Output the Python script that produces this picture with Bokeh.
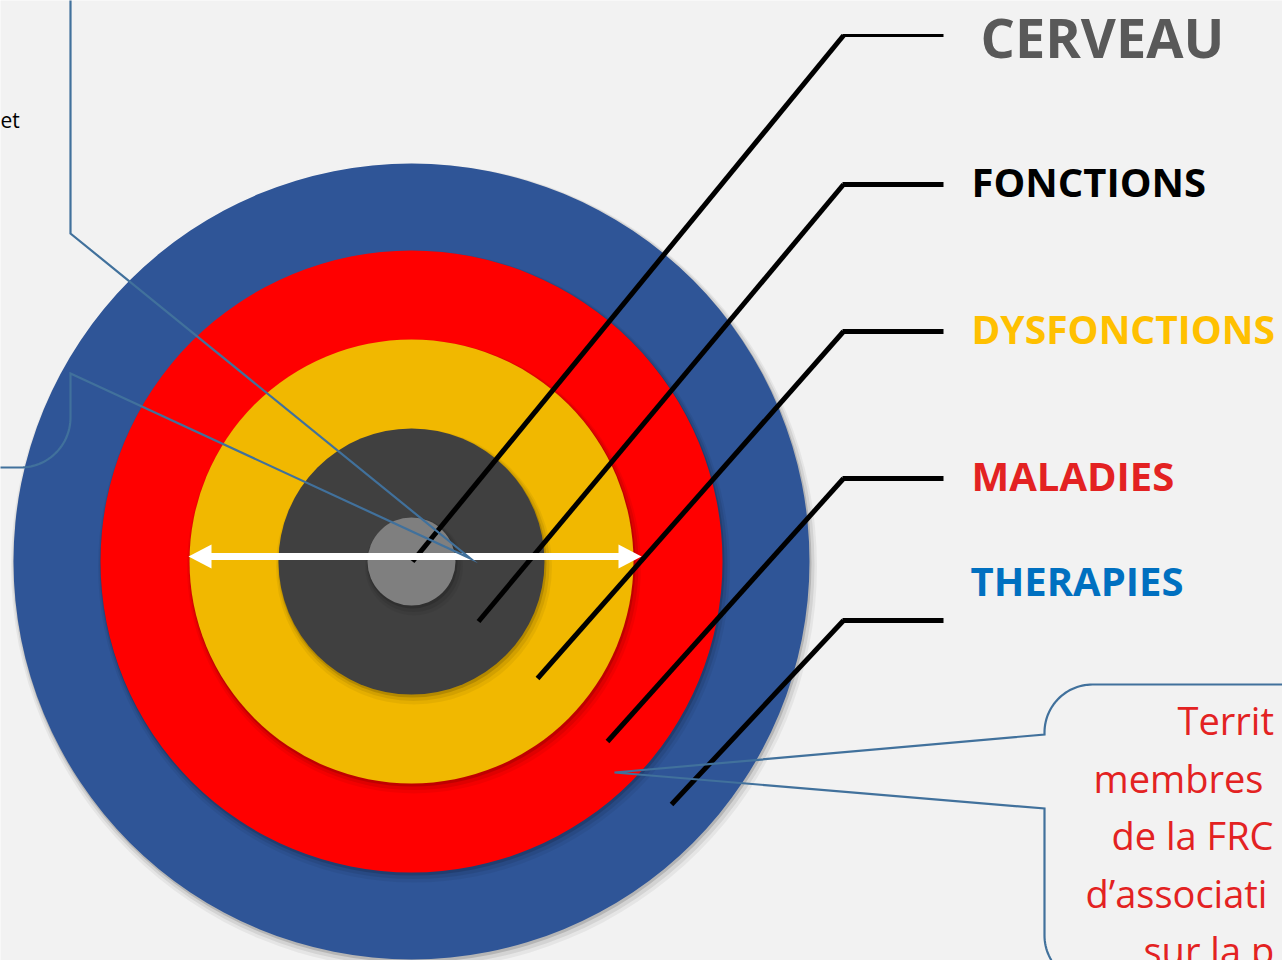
import numpy as np
from bokeh.plotting import figure
from bokeh.models import Range1d, ColumnDataSource
from bokeh.core.properties import value
from bokeh.embed import file_html
from bokeh.resources import INLINE

# ---------------- data ----------------
# concentric rings (outer -> inner)
ring_names = ["THERAPIES", "MALADIES", "DYSFONCTIONS", "FONCTIONS", "CERVEAU"]
ring_radius = [398, 311, 222, 133, 44]
ring_colors = ["#2F5597", "#FF0000", "#F1B800", "#404040", "#7F7F7F"]
center_x = 411
center_y = 561

# right-hand labels (y = text anchor)
labels = ["CERVEAU", "FONCTIONS", "DYSFONCTIONS", "MALADIES", "THERAPIES"]
label_colors = ["#595959", "#000000", "#FFC000", "#E32222", "#0070C0"]
label_x = [980, 971, 971, 971, 970]
label_y = [36, 181, 328, 475, 580]
label_size = ["54px", "40px", "39px", "40px", "40px"]

# black leader lines
leader_inner_x = [412, 478, 537, 607, 671]
leader_inner_y = [561, 621, 678, 741, 804]
leader_elbow_x = [843, 843, 843, 843, 843]
leader_elbow_y = [35, 184, 331, 478, 620]
leader_end_x = [943, 943, 943, 943, 943]
leader_h_width = [3, 5, 5, 5, 5]

# white double arrow
arrow_x_start = 188
arrow_x_end = 641
arrow_y = 556
arrow_head_len = 23
arrow_head_half = 12

# callout (left)
left_callout_pts_x = [70, 70, 470, 70, 70]
left_callout_pts_y = [-5, 233, 558, 373, 417]
left_corner = (20, 417, 50)
left_tail_x = -5
# callout (bottom right)
right_top_y = 684
right_corner_top = (1092, 732, 48)
right_pointer_x = [1044, 1044, 614, 1044, 1044]
right_pointer_y = [732, 734, 772, 808, 935]
right_corner_bottom = (1092, 935, 48)

callout_lines = ["Territ", "membres", "de la FRC", "d\u2019associati", "sur la p"]
callout_x = [1177, 1093, 1111, 1085, 1143]
callout_y = [719, 777, 834, 892, 949]

top_left_text = ["et"]

BG = "#F2F2F2"
CALLOUT_BLUE = "#41719C"

# ---------------- figure ----------------
p = figure(width=1282, height=960,
           x_range=Range1d(0, 1282), y_range=Range1d(960, 0),
           output_backend="svg", toolbar_location=None, tools="",
           x_axis_type=None, y_axis_type=None, min_border=0,
           background_fill_color=BG, border_fill_color=BG,
           outline_line_color=None)

# rings with soft shadows
shadow_layers = [(2.5, 5.0, 5.0, 0.05), (2.0, 3.5, 3.0, 0.08), (1.0, 2.0, 1.0, 0.14)]
for r, c in zip(ring_radius, ring_colors):
    for dx, dy, dr, a in shadow_layers:
        p.circle(x=[center_x + dx], y=[center_y + dy], radius=[r + dr],
                 fill_color="black", fill_alpha=a, line_color=None)
    p.circle(x=[center_x], y=[center_y], radius=[r], fill_color=c, line_color=None)

# black leader lines
diag = ColumnDataSource(dict(x0=leader_inner_x, y0=leader_inner_y,
                             x1=leader_elbow_x, y1=leader_elbow_y))
p.segment(x0="x0", y0="y0", x1="x1", y1="y1", source=diag,
          line_color="black", line_width=5, line_cap="butt")
horiz = ColumnDataSource(dict(x0=[x - 1 for x in leader_elbow_x], y0=leader_elbow_y,
                              x1=leader_end_x, y1=leader_elbow_y, w=leader_h_width))
p.segment(x0="x0", y0="y0", x1="x1", y1="y1", source=horiz,
          line_color="black", line_width="w", line_cap="butt")

# white double arrow
p.segment(x0=[arrow_x_start + arrow_head_len - 1], y0=[arrow_y],
          x1=[arrow_x_end - arrow_head_len + 1], y1=[arrow_y],
          line_color="white", line_width=7)
p.patches(xs=[[arrow_x_start, arrow_x_start + arrow_head_len, arrow_x_start + arrow_head_len],
              [arrow_x_end, arrow_x_end - arrow_head_len, arrow_x_end - arrow_head_len]],
          ys=[[arrow_y, arrow_y - arrow_head_half, arrow_y + arrow_head_half],
              [arrow_y, arrow_y - arrow_head_half, arrow_y + arrow_head_half]],
          fill_color="white", line_color=None)

# callout outlines
cx, cy, cr = left_corner
t = np.linspace(0, np.pi / 2, 30)
lx = list(left_callout_pts_x) + list(cx + cr * np.cos(t)) + [left_tail_x]
ly = list(left_callout_pts_y) + list(cy + cr * np.sin(t)) + [cy + cr]

tx, ty, tr = right_corner_top
bx, by, br = right_corner_bottom
t1 = np.linspace(-np.pi / 2, -np.pi, 30)
t2 = np.linspace(np.pi, np.pi / 2, 30)
rx = [1290] + list(tx + tr * np.cos(t1)) + right_pointer_x + list(bx + br * np.cos(t2))
ry = [right_top_y] + list(ty + tr * np.sin(t1)) + right_pointer_y + list(by + br * np.sin(t2))

p.multi_line(xs=[lx, rx], ys=[ly, ry], line_color=CALLOUT_BLUE, line_width=2.2,
             line_join="miter")

# labels
lab = ColumnDataSource(dict(x=label_x, y=label_y, t=labels, c=label_colors, s=label_size))
p.text(x="x", y="y", text="t", source=lab, text_color="c", text_font_size="s",
       text_font=value("Open Sans"), text_font_style="bold",
       text_baseline="alphabetic", text_align="left")

# callout text
ct = ColumnDataSource(dict(x=callout_x, y=callout_y, t=callout_lines))
p.text(x="x", y="y", text="t", source=ct, text_color="#E32222", text_font_size="38px",
       text_font=value("Open Sans"), text_baseline="alphabetic", text_align="left")

p.text(x=[0], y=[119], text=top_left_text, text_color="black", text_font_size="21px",
       text_font=value("Open Sans"), text_baseline="alphabetic", text_align="left")

open("out.html", "w").write(file_html(p, INLINE))
